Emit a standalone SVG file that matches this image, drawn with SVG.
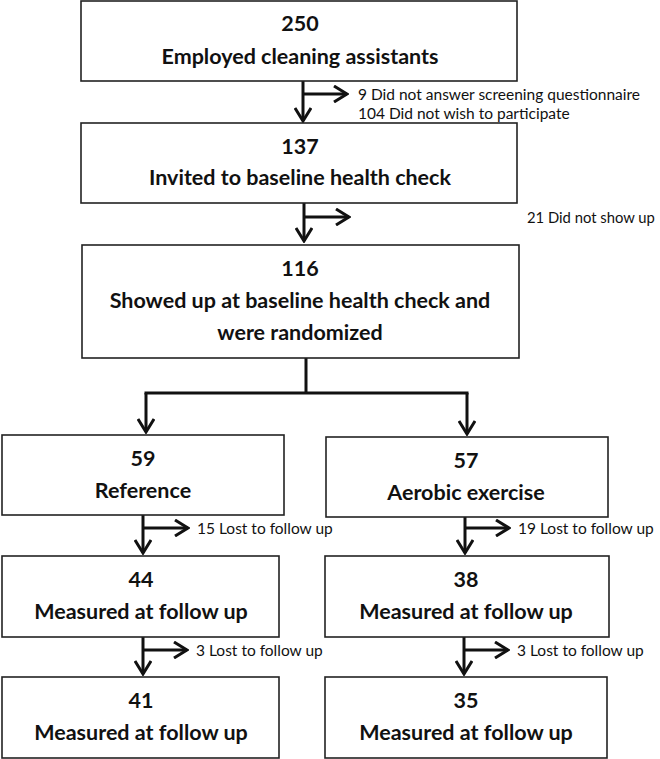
<svg xmlns="http://www.w3.org/2000/svg" width="660" height="759" viewBox="0 0 660 759">
<defs>
<style>
.box{fill:#fff;stroke:#222;stroke-width:1.6}
.t{font-family:Lato,"Liberation Sans",sans-serif;font-weight:bold;font-size:21.5px;fill:#111;text-anchor:middle}
.s{font-family:Lato,"Liberation Sans",sans-serif;font-size:15.5px;fill:#111}
.ln{fill:none;stroke:#111;stroke-width:3}
</style>
<marker id="ah" viewBox="-14 -9 16 18" markerWidth="16" markerHeight="18" refX="0" refY="0" orient="auto" markerUnits="userSpaceOnUse">
<polyline points="-13,-8 0,0 -13,8" fill="none" stroke="#111" stroke-width="3"/>
</marker>
</defs>
<rect width="660" height="759" fill="#fff"/>
<g id="connectors">
<path class="ln" d="M303,81 V121" marker-end="url(#ah)"/>
<path class="ln" d="M303,94 H347" marker-end="url(#ah)"/>
<path class="ln" d="M304,203 V241" marker-end="url(#ah)"/>
<path class="ln" d="M304,217 H349" marker-end="url(#ah)"/>
<path class="ln" d="M306,358 V393"/>
<path class="ln" d="M144.5,393 H468.5"/>
<path class="ln" d="M146,393 V432" marker-end="url(#ah)"/>
<path class="ln" d="M467,393 V434" marker-end="url(#ah)"/>
<path class="ln" d="M143,515 V553" marker-end="url(#ah)"/>
<path class="ln" d="M143,528 H188" marker-end="url(#ah)"/>
<path class="ln" d="M465,517 V553" marker-end="url(#ah)"/>
<path class="ln" d="M465,528 H509" marker-end="url(#ah)"/>
<path class="ln" d="M143,637 V674" marker-end="url(#ah)"/>
<path class="ln" d="M143,650 H187" marker-end="url(#ah)"/>
<path class="ln" d="M464,637 V674" marker-end="url(#ah)"/>
<path class="ln" d="M464,650 H508" marker-end="url(#ah)"/>
</g>
<g id="n250">
<rect class="box" x="81" y="1" width="436" height="80"/>
<text class="t" x="300" y="30.5">250</text>
<text class="t" x="300" y="63.5">Employed cleaning assistants</text>
</g>
<g id="excl1">
<text class="s" x="358" y="99.5">9 Did not answer screening questionnaire</text>
<text class="s" x="358" y="118.5">104 Did not wish to participate</text>
</g>
<g id="n137">
<rect class="box" x="81" y="123" width="436" height="80"/>
<text class="t" x="300" y="153.5">137</text>
<text class="t" x="300" y="184.5">Invited to baseline health check</text>
</g>
<g id="excl2">
<text class="s" x="527" y="222.5" style="font-size:14.8px">21 Did not show up</text>
</g>
<g id="n116">
<rect class="box" x="82" y="245" width="437" height="113"/>
<text class="t" x="300" y="275.5">116</text>
<text class="t" x="300" y="307.5">Showed up at baseline health check and</text>
<text class="t" x="300" y="339.5">were randomized</text>
</g>
<g id="n59">
<rect class="box" x="2" y="435" width="282" height="80"/>
<text class="t" x="143" y="465.5">59</text>
<text class="t" x="143" y="497.5">Reference</text>
</g>
<g id="n57">
<rect class="box" x="326" y="437" width="282" height="80"/>
<text class="t" x="466" y="467.5">57</text>
<text class="t" x="466" y="499.5">Aerobic exercise</text>
</g>
<g id="lost15">
<text class="s" x="197" y="533.5">15 Lost to follow up</text>
</g>
<g id="lost19">
<text class="s" x="518" y="533.5">19 Lost to follow up</text>
</g>
<g id="n44">
<rect class="box" x="2" y="556" width="277" height="81"/>
<text class="t" x="141" y="586.5">44</text>
<text class="t" x="141" y="618.5">Measured at follow up</text>
</g>
<g id="n38">
<rect class="box" x="325" y="556" width="284" height="81"/>
<text class="t" x="466" y="586.5">38</text>
<text class="t" x="466" y="618.5">Measured at follow up</text>
</g>
<g id="lost3a">
<text class="s" x="196" y="655.5">3 Lost to follow up</text>
</g>
<g id="lost3b">
<text class="s" x="517" y="655.5">3 Lost to follow up</text>
</g>
<g id="n41">
<rect class="box" x="2" y="677" width="277" height="81"/>
<text class="t" x="141" y="707.5">41</text>
<text class="t" x="141" y="739.5">Measured at follow up</text>
</g>
<g id="n35">
<rect class="box" x="325" y="677" width="282" height="81"/>
<text class="t" x="466" y="707.5">35</text>
<text class="t" x="466" y="739.5">Measured at follow up</text>
</g>
</svg>
